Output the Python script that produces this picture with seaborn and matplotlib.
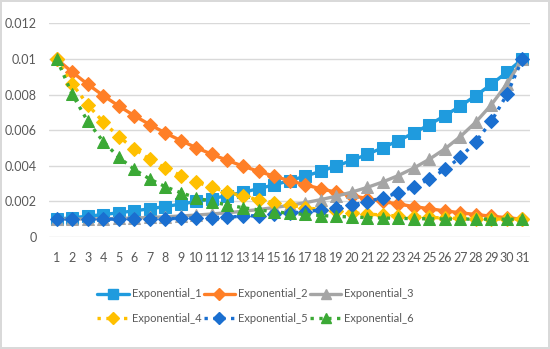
import matplotlib
matplotlib.use("Agg")
import matplotlib.pyplot as plt
import seaborn as sns
import pandas as pd
from matplotlib.lines import Line2D

x_vals = list(range(1, 32))

exp_1 = [0.001000, 0.001080, 0.001166, 0.001259, 0.001359, 0.001468, 0.001585, 0.001711,
         0.001848, 0.001995, 0.002154, 0.002326, 0.002512, 0.002712, 0.002929, 0.003162,
         0.003415, 0.003687, 0.003981, 0.004299, 0.004642, 0.005012, 0.005412, 0.005843,
         0.006310, 0.006813, 0.007356, 0.007943, 0.008577, 0.009261, 0.010000]
exp_2 = [0.010000, 0.009261, 0.008577, 0.007943, 0.007356, 0.006813, 0.006310, 0.005843,
         0.005412, 0.005012, 0.004642, 0.004299, 0.003981, 0.003687, 0.003415, 0.003162,
         0.002929, 0.002712, 0.002512, 0.002326, 0.002154, 0.001995, 0.001848, 0.001711,
         0.001585, 0.001468, 0.001359, 0.001259, 0.001166, 0.001080, 0.001000]
exp_3 = [0.001000, 0.001003, 0.001010, 0.001023, 0.001042, 0.001066, 0.001096, 0.001134,
         0.001178, 0.001230, 0.001292, 0.001363, 0.001445, 0.001541, 0.001651, 0.001778,
         0.001925, 0.002095, 0.002291, 0.002518, 0.002783, 0.003090, 0.003450, 0.003871,
         0.004365, 0.004948, 0.005638, 0.006457, 0.007431, 0.008600, 0.010000]
exp_4 = [0.010000, 0.008600, 0.007431, 0.006457, 0.005638, 0.004948, 0.004365, 0.003871,
         0.003450, 0.003090, 0.002783, 0.002518, 0.002291, 0.002095, 0.001925, 0.001778,
         0.001651, 0.001541, 0.001445, 0.001363, 0.001292, 0.001230, 0.001178, 0.001134,
         0.001096, 0.001066, 0.001042, 0.001023, 0.001010, 0.001003, 0.001000]
exp_5 = [0.001000, 0.001000, 0.001001, 0.001002, 0.001005, 0.001011, 0.001019, 0.001030,
         0.001045, 0.001064, 0.001089, 0.001120, 0.001159, 0.001206, 0.001264, 0.001334,
         0.001418, 0.001520, 0.001644, 0.001795, 0.001978, 0.002203, 0.002480, 0.002822,
         0.003251, 0.003791, 0.004477, 0.005358, 0.006501, 0.008005, 0.010000]
exp_6 = [0.010000, 0.008005, 0.006501, 0.005358, 0.004477, 0.003791, 0.003251, 0.002822,
         0.002480, 0.002203, 0.001978, 0.001795, 0.001644, 0.001520, 0.001418, 0.001334,
         0.001264, 0.001206, 0.001159, 0.001120, 0.001089, 0.001064, 0.001045, 0.001030,
         0.001019, 0.001011, 0.001005, 0.001002, 0.001001, 0.001000, 0.001000]

series_names = ["Exponential_1", "Exponential_2", "Exponential_3",
                "Exponential_4", "Exponential_5", "Exponential_6"]
series_values = [exp_1, exp_2, exp_3, exp_4, exp_5, exp_6]
y_ticks = [0, 0.002, 0.004, 0.006, 0.008, 0.01, 0.012]
y_tick_labels = ["0", "0.002", "0.004", "0.006", "0.008", "0.01", "0.012"]

colors = ["#1F9BDE", "#FF7F27", "#A5A5A5", "#FFC000", "#1A6FD0", "#3BA935"]
markers = ["s", "D", "^", "D", "D", "^"]
msizes = [8, 7, 8, 7, 7, 8]
styles = ["-", "-", "-", ":", ":", ":"]

sns.set_style("white")
plt.rcParams["font.family"] = ["Lato", "DejaVu Sans"]

fig = plt.figure(figsize=(5.5, 3.49), dpi=100)
fig.patch.set_edgecolor("#D9D9D9")
fig.patch.set_linewidth(1.5)
ax = fig.add_axes([0.089, 0.321, 0.875, 0.612])

for name, vals, c, m, ms, ls in zip(series_names, series_values, colors, markers, msizes, styles):
    df = pd.DataFrame({"x": x_vals, "y": vals})
    sns.lineplot(data=df, x="x", y="y", ax=ax, color=c, marker=m, markersize=ms,
                 markeredgecolor=c, linestyle=ls, linewidth=2.4, label=None)

ax.set_xlim(0.5, 31.5)
ax.set_ylim(0, 0.012)
ax.set_xticks(x_vals)
ax.set_xticklabels([str(v) for v in x_vals])
ax.set_yticks(y_ticks)
ax.set_yticklabels(y_tick_labels)
ax.grid(axis="y", color="#D9D9D9", linewidth=1)
ax.set_axisbelow(True)
for s in ax.spines.values():
    s.set_visible(False)
ax.tick_params(axis="both", length=0, labelsize=9, colors="#595959")
ax.tick_params(axis="x", pad=11)
ax.tick_params(axis="y", pad=9)
ax.set_xlabel("")
ax.set_ylabel("")

handles = [Line2D([], [], color=c, marker=m, markersize=ms - 1, linestyle=ls, linewidth=2.4)
           for c, m, ms, ls in zip(colors, markers, msizes, styles)]
order = [0, 3, 1, 4, 2, 5]
leg = fig.legend([handles[i] for i in order], [series_names[i] for i in order],
                 loc="center", bbox_to_anchor=(0.465, 0.122), ncol=3, frameon=False,
                 fontsize=8, handlelength=2.8, handletextpad=0.3, columnspacing=0.2,
                 labelspacing=1.25)
for t in leg.get_texts():
    t.set_color("#595959")

fig.savefig("out.png", dpi=100)
